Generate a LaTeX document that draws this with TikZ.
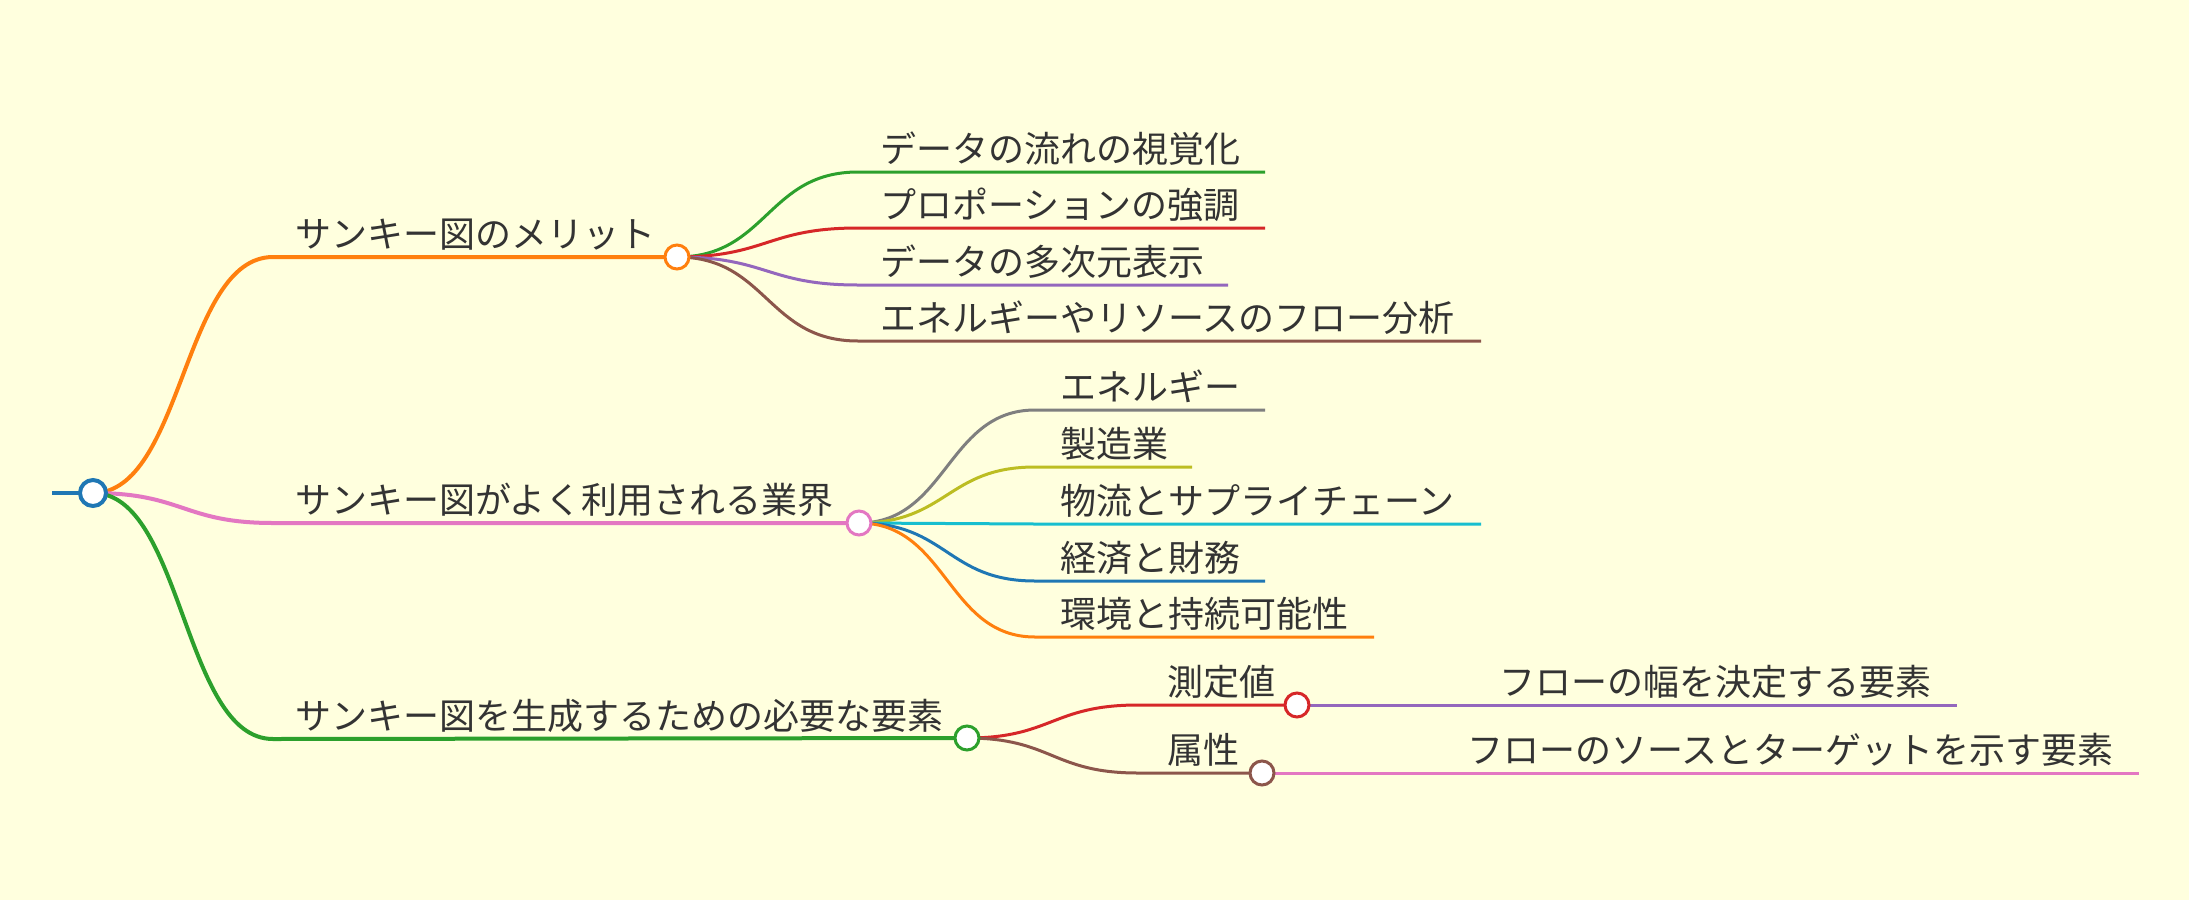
\documentclass[tikz,border=0pt]{standalone}
\usepackage{fontspec}
\newfontfamily\jp{Noto Sans CJK JP}
\definecolor{bg}{HTML}{FFFFDE}
\definecolor{txtc}{HTML}{333333}
\definecolor{cblue}{HTML}{1F77B4}
\definecolor{corange}{HTML}{FF7F0E}
\definecolor{cgreen}{HTML}{2CA02C}
\definecolor{cred}{HTML}{D62728}
\definecolor{cpurple}{HTML}{9467BD}
\definecolor{cbrown}{HTML}{8C564B}
\definecolor{cpink}{HTML}{E377C2}
\definecolor{cgray}{HTML}{7F7F7F}
\definecolor{colive}{HTML}{BCBD22}
\definecolor{ccyan}{HTML}{17BECF}
\begin{document}
\begin{tikzpicture}[x=1pt,y=-1pt,
  txt/.style={anchor=base west, inner sep=0pt, font=\jp\fontsize{36}{40}\selectfont, text=txtc},
  dot/.style={circle, fill=white, minimum size=24pt, inner sep=0pt, line width=3pt},
  bigdot/.style={circle, fill=white, minimum size=26pt, inner sep=0pt, line width=4pt},
  mainedge/.style={line width=4pt},
  subedge/.style={line width=3pt}]
\fill[bg] (0,0) rectangle (2189,900);
\useasboundingbox (0,0) rectangle (2189,900);

% centres
\coordinate (r) at (93,493);
\coordinate (rs) at (52,493);
\coordinate (b1) at (677,257);
\coordinate (b2) at (859,523);
\coordinate (b3) at (967,738);
\coordinate (m1) at (1297,705);
\coordinate (m2) at (1262,773);
% horizontal starts / ends
\coordinate (h1) at (273,257);
\coordinate (h2) at (273,523);
\coordinate (h3) at (273,739);
\coordinate (s11) at (858,172);  \coordinate (e11) at (1265,172);
\coordinate (s12) at (858,228);  \coordinate (e12) at (1265,228);
\coordinate (s13) at (858,285);  \coordinate (e13) at (1228,285);
\coordinate (s14) at (858,341);  \coordinate (e14) at (1481,341);
\coordinate (s21) at (1035,410); \coordinate (e21) at (1265,410);
\coordinate (s22) at (1035,467); \coordinate (e22) at (1192,467);
\coordinate (s23) at (1035,524); \coordinate (e23) at (1481,524);
\coordinate (s24) at (1035,581); \coordinate (e24) at (1265,581);
\coordinate (s25) at (1035,637); \coordinate (e25) at (1374,637);
\coordinate (s31) at (1138,705);
\coordinate (s32) at (1138,773);
\coordinate (e41) at (1957,705);
\coordinate (e42) at (2139,773);

% edges
\draw[mainedge, cblue] (rs) -- (r);
\draw[mainedge, corange] (r) .. controls (183,493) and (183,257) .. (h1) -- (b1);
\draw[mainedge, cpink] (r) .. controls (183,493) and (183,523) .. (h2) -- (b2);
\draw[mainedge, cgreen] (r) .. controls (183,493) and (183,739) .. (h3) -- (b3);

\draw[subedge, cgreen]  (b1) .. controls (767,257) and (767,172) .. (s11) -- (e11);
\draw[subedge, cred]    (b1) .. controls (767,257) and (767,228) .. (s12) -- (e12);
\draw[subedge, cpurple] (b1) .. controls (767,257) and (767,285) .. (s13) -- (e13);
\draw[subedge, cbrown]  (b1) .. controls (767,257) and (767,341) .. (s14) -- (e14);

\draw[subedge, cgray]  (b2) .. controls (947,523) and (947,410) .. (s21) -- (e21);
\draw[subedge, colive] (b2) .. controls (947,523) and (947,467) .. (s22) -- (e22);
\draw[subedge, ccyan]  (b2) .. controls (947,523) and (947,524) .. (s23) -- (e23);
\draw[subedge, cblue]  (b2) .. controls (947,523) and (947,581) .. (s24) -- (e24);
\draw[subedge, corange] (b2) .. controls (947,523) and (947,637) .. (s25) -- (e25);

\draw[subedge, cred]   (b3) .. controls (1052,738) and (1052,705) .. (s31) -- (m1);
\draw[subedge, cbrown] (b3) .. controls (1052,738) and (1052,773) .. (s32) -- (m2);

\draw[subedge, cpurple] (m1) -- (e41);
\draw[subedge, cpink]   (m2) -- (e42);

% circles
\node[bigdot, draw=cblue] (rn) at (r) {};
\node[dot, draw=corange] (b1n) at (b1) {};
\node[dot, draw=cpink] (b2n) at (b2) {};
\node[dot, draw=cgreen] (b3n) at (b3) {};
\node[dot, draw=cred] (m1n) at (m1) {};
\node[dot, draw=cbrown] (m2n) at (m2) {};

% labels
\node[txt] (t1) at (295,247.5) {サンキー図のメリット};
\node[txt] (t2) at (295,513.5) {サンキー図がよく利用される業界};
\node[txt] (t3) at (295,729.5) {サンキー図を生成するための必要な要素};
\node[txt] (t11) at (880,162.5) {データの流れの視覚化};
\node[txt] (t12) at (880,218.5) {プロポーションの強調};
\node[txt] (t13) at (880,275.5) {データの多次元表示};
\node[txt] (t14) at (880,331.5) {エネルギーやリソースのフロー分析};
\node[txt] (t21) at (1060,400.5) {エネルギー};
\node[txt] (t22) at (1060,457.5) {製造業};
\node[txt] (t23) at (1060,514.5) {物流とサプライチェーン};
\node[txt] (t24) at (1060,571.5) {経済と財務};
\node[txt] (t25) at (1060,627.5) {環境と持続可能性};
\node[txt] (t31) at (1167,695.5) {測定値};
\node[txt] (t32) at (1167,763.5) {属性};
\node[txt] (t41) at (1499,695.5) {フローの幅を決定する要素};
\node[txt] (t42) at (1467,763.5) {フローのソースとターゲットを示す要素};
\end{tikzpicture}
\end{document}
